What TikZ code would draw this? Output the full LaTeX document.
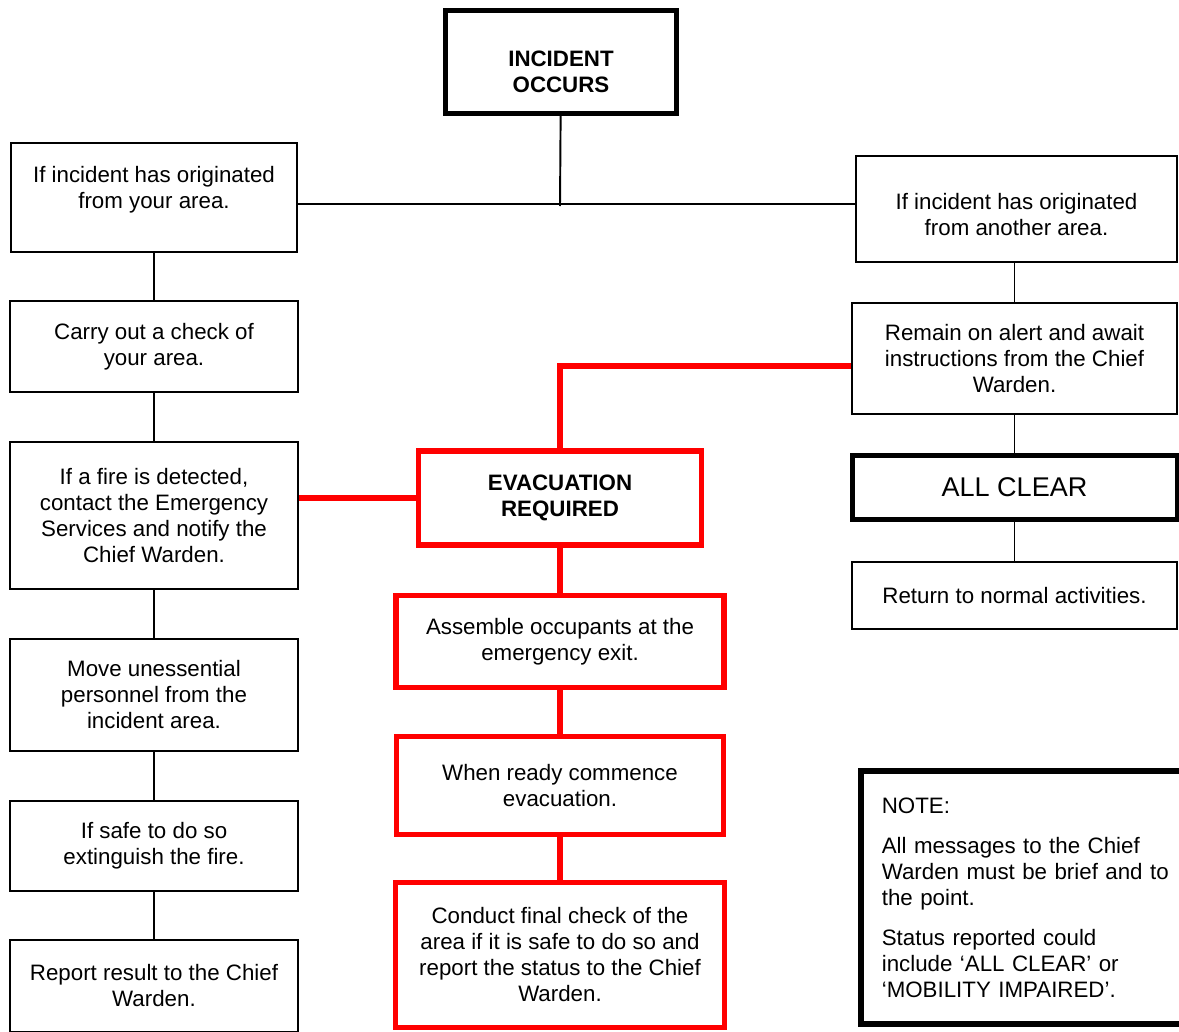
\documentclass[tikz,border=0pt]{standalone}
\usepackage{fontspec}
\setmainfont{Liberation Sans}
\usepackage{tikz}

\begin{document}
\begin{tikzpicture}[x=0.02cm,y=-0.02cm,
    main node/.style={rectangle,draw,line width=1.1pt,inner sep=2pt,align=center,
      font=\fontsize{12.7}{14.8}\selectfont},
    heavy node/.style={main node,line width=2.8pt},
    alarm node/.style={main node,draw=red,line width=3.3pt},
    link/.style={line width=1.1pt},
    alarm link/.style={draw=red,line width=3.2pt}]
  \useasboundingbox (0,0) rectangle (1179,1031);

  \node[heavy node,minimum width=4.62cm,minimum height=2.06cm,
    font=\fontsize{12.7}{14.8}\selectfont\bfseries] (incident) at (561,62)
    {\rule{0pt}{20.5pt}INCIDENT\\OCCURS};

  \node[main node,minimum width=5.72cm,minimum height=2.18cm] (own) at (154,197.5)
    {If incident has originated\\from your area.\\[-0.1cm]\mbox{}};
  \node[main node,minimum width=5.76cm,minimum height=1.82cm] (check) at (154,346.5)
    {Carry out a check of\\your area.};
  \node[main node,minimum width=5.76cm,minimum height=2.94cm] (detect) at (154,515.5)
    {If a fire is detected,\\contact the Emergency\\Services and notify the\\Chief Warden.};
  \node[main node,minimum width=5.76cm,minimum height=2.24cm] (move) at (154,695)
    {Move unessential\\personnel from the\\incident area.};
  \node[main node,minimum width=5.76cm,minimum height=1.80cm] (fight) at (154,846)
    {If safe to do so\\extinguish the fire.};
  \node[main node,minimum width=5.76cm,minimum height=1.84cm] (report) at (154,986)
    {Report result to the Chief\\Warden.};

  \node[alarm node,minimum width=5.66cm,minimum height=1.88cm,
    font=\fontsize{12.7}{14.8}\selectfont\bfseries] (evac) at (560,498) {EVACUATION\\REQUIRED};
  \node[alarm node,minimum width=6.56cm,minimum height=1.84cm] (assemble) at (560,641.5)
    {Assemble occupants at the\\emergency exit.};
  \node[alarm node,minimum width=6.54cm,minimum height=1.96cm] (commence) at (560,785.5)
    {When ready commence\\evacuation.};
  \node[alarm node,minimum width=6.58cm,minimum height=2.90cm] (final) at (560,955)
    {Conduct final check of the\\area if it is safe to do so and\\report the status to the Chief\\Warden.};

  \node[main node,minimum width=6.42cm,minimum height=2.12cm] (other) at (1016.5,209)
    {\rule{0pt}{16pt}If incident has originated\\from another area.};
  \node[main node,minimum width=6.50cm,minimum height=2.22cm] (alert) at (1014.5,358.5)
    {Remain on alert and await\\instructions from the Chief\\Warden.};
  \node[heavy node,minimum width=6.50cm,minimum height=1.28cm,
    font=\fontsize{15.4}{18}\selectfont] (clear) at (1014.5,487.5) {ALL CLEAR};
  \node[main node,minimum width=6.50cm,minimum height=1.34cm] (normal) at (1014.5,595.5)
    {Return to normal activities.};

  \node[heavy node,line width=3.2pt,anchor=west,minimum height=5.06cm,inner xsep=0.42cm,
    text width=6.2cm,align=left] (note) at (858,897.5)
    {NOTE:\\[0.28cm]
     All messages to the Chief\\Warden must be brief and to\\the point.\\[0.28cm]
     Status reported could\\include `ALL CLEAR' or\\`MOBILITY IMPAIRED'.};

  \coordinate (split) at (560,204);
  \draw[link] (incident) -- ([yshift=-0.04cm]split);
  \draw[link] (split -| own.east) -- (split -| other.west);

  \path[link]
    (own) edge (check)
    (check) edge (detect)
    (detect) edge (move)
    (move) edge (fight)
    (fight) edge (report)
    (other.south -| alert) edge (alert)
    (alert) edge (clear)
    (clear) edge (normal);

  \path[alarm link]
    (evac) edge (assemble)
    (assemble) edge (commence)
    (commence) edge (final);
  \draw[alarm link] (evac.west) -- (evac.west -| detect.east);
  \draw[alarm link] ([yshift=-0.15cm]alert.west) -| (evac.north);
\end{tikzpicture}
\end{document}
